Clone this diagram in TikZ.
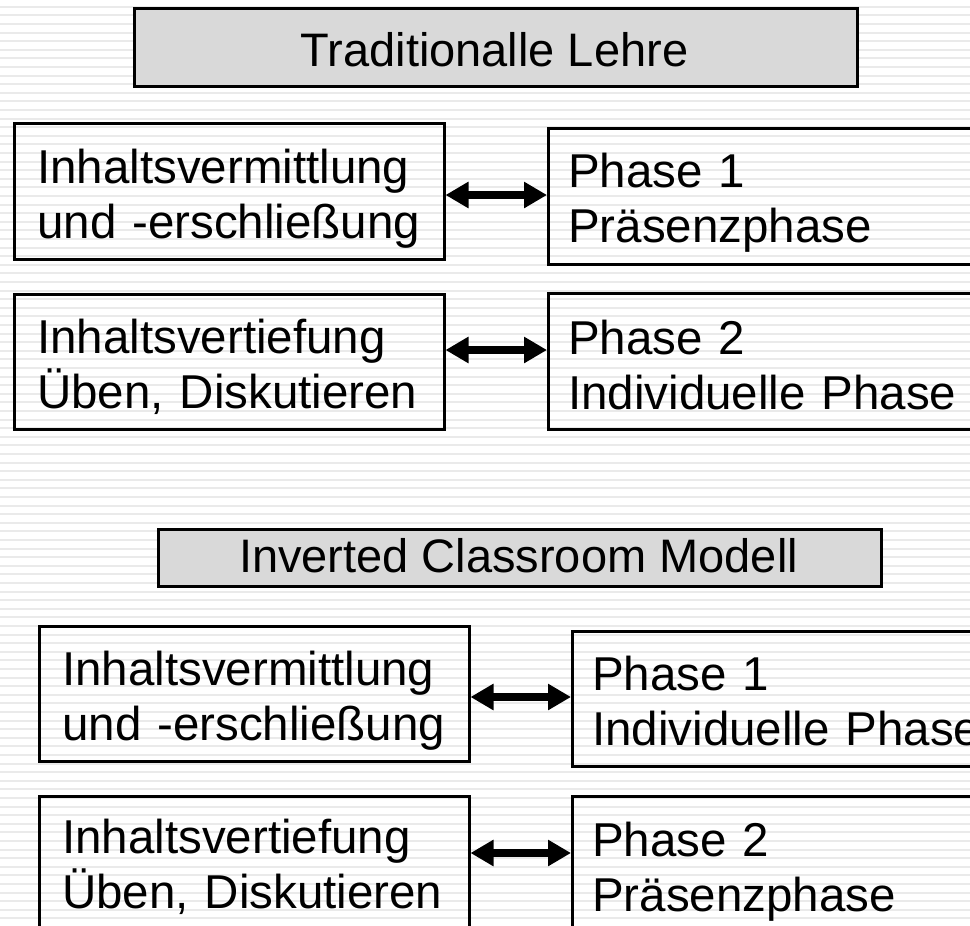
\documentclass[tikz,border=0pt]{standalone}
\usepackage{fontspec}
\setmainfont{Liberation Sans}
\usetikzlibrary{arrows.meta}
\definecolor{stripecol}{HTML}{EAEAEA}
\definecolor{titlefill}{HTML}{D9D9D9}
\tikzset{
  stripe/.style={draw=stripecol, line width=2pt},
  boxframe/.style={draw=black, line width=2.5pt, anchor=north west, inner sep=0pt},
  titleframe/.style={boxframe, fill=titlefill},
  boxtext/.style={anchor=base west, inner sep=0pt, align=left, text width=600pt,
    font=\fontsize{47.5}{55}\selectfont},
  titletext/.style={anchor=base, inner sep=0pt, font=\fontsize{47}{55}\selectfont},
  biarrow/.style={line width=8pt, {Triangle[length=23pt 0 0,width=25pt 0 0]}-{Triangle[length=23pt 0 0,width=25pt 0 0]}}
}
\begin{document}
\begin{tikzpicture}[x=1pt,y=-1pt]
\useasboundingbox (0,0) rectangle (970,926);
\clip (0,0) rectangle (970,926);
\fill[white] (0,0) rectangle (970,926);
\foreach \i in {0,...,107} {
  \draw[stripe] (0,6.7+8.6*\i) -- (970,6.7+8.6*\i);
}
% first block
\node[titleframe, minimum width=723, minimum height=78] (T1) at (133,7) {};
\node[titletext] (T1t) at (494.5,66) {Traditionalle Lehre};

\node[boxframe, minimum width=430, minimum height=136] (A1) at (13,122) {};
\node[boxtext] (A1t) at (37,183) {Inhaltsvermittlung\\und -erschließung};
\node[boxframe, minimum width=560, minimum height=136] (B1) at (547,127) {};
\node[boxtext] (B1t) at (568,187) {Phase 1\\Präsenzphase};
\draw[biarrow] (A1.east |- 0,195) -- (B1.west |- 0,195);

\node[boxframe, minimum width=430, minimum height=135] (A2) at (13,293) {};
\node[boxtext] (A2t) at (37,353) {Inhaltsvertiefung\\Üben, Diskutieren};
\node[boxframe, minimum width=560, minimum height=136] (B2) at (547,292) {};
\node[boxtext] (B2t) at (568,354) {Phase 2\\Individuelle Phase};
\draw[biarrow] (A2.east |- 0,350) -- (B2.west |- 0,350);

% second block
\node[titleframe, minimum width=723, minimum height=57] (T2) at (157,528) {};
\node[titletext] (T2t) at (518.5,572) {Inverted Classroom Modell};

\node[boxframe, minimum width=430, minimum height=135] (A3) at (38,625) {};
\node[boxtext] (A3t) at (62,685) {Inhaltsvermittlung\\und -erschließung};
\node[boxframe, minimum width=560, minimum height=135] (B3) at (571,630) {};
\node[boxtext] (B3t) at (592,690) {Phase 1\\Individuelle Phase};
\draw[biarrow] (A3.east |- 0,697) -- (B3.west |- 0,697);

\node[boxframe, minimum width=430, minimum height=200] (A4) at (38,795) {};
\node[boxtext] (A4t) at (62,853) {Inhaltsvertiefung\\Üben, Diskutieren};
\node[boxframe, minimum width=560, minimum height=200] (B4) at (571,795) {};
\node[boxtext] (B4t) at (592,856) {Phase 2\\Präsenzphase};
\draw[biarrow] (A4.east |- 0,853) -- (B4.west |- 0,853);
\end{tikzpicture}
\end{document}
